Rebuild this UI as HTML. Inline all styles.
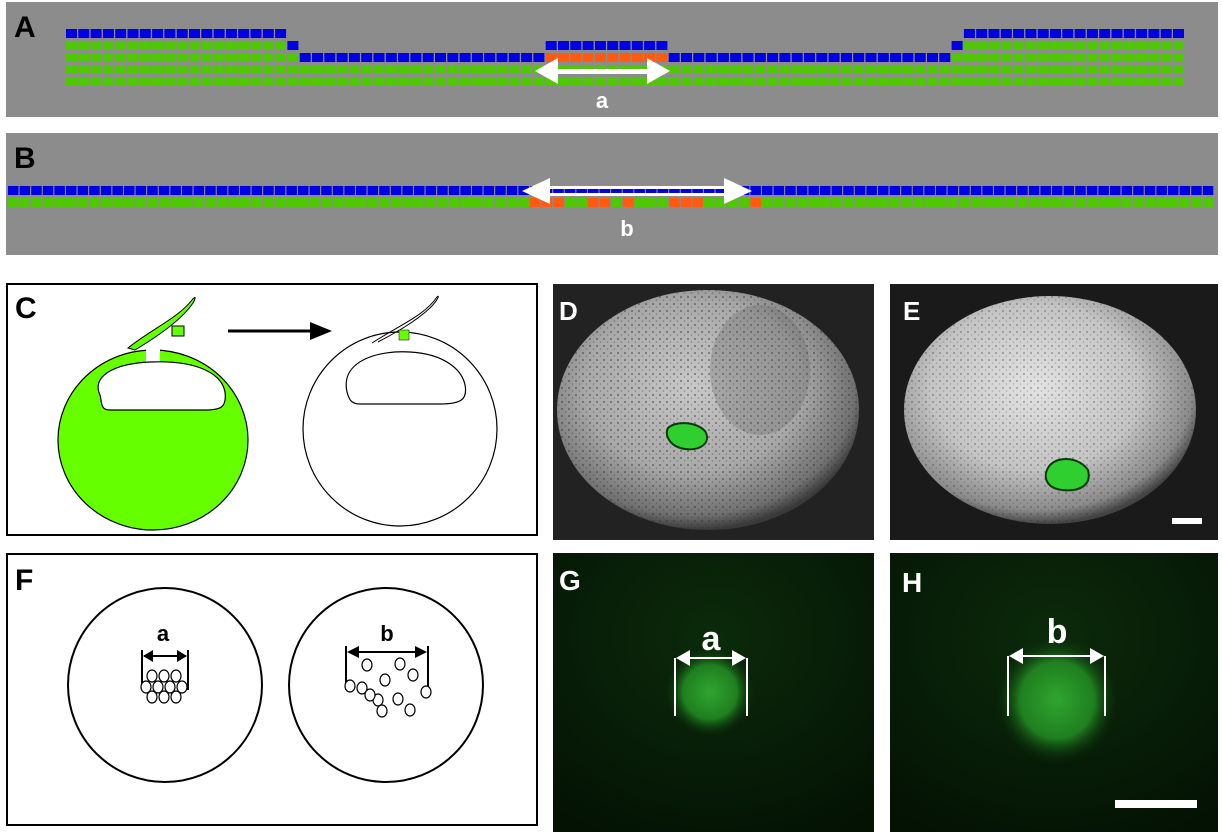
<!DOCTYPE html>
<html><head><meta charset="utf-8"><style>
body{margin:0;background:#fff;width:1222px;height:832px;overflow:hidden;font-family:"Liberation Sans",sans-serif}
svg{position:absolute;left:0;top:0}
</style></head><body>
<svg id="s" width="1222" height="832" xmlns="http://www.w3.org/2000/svg">
<defs>
<radialGradient id="sph" cx="0.45" cy="0.4" r="0.6">
<stop offset="0" stop-color="#c8c8c8"/><stop offset="0.6" stop-color="#a8a8a8"/><stop offset="0.9" stop-color="#707070"/><stop offset="1" stop-color="#3a3a3a"/></radialGradient>
<radialGradient id="sph2" cx="0.45" cy="0.4" r="0.6">
<stop offset="0" stop-color="#e2e2e2"/><stop offset="0.6" stop-color="#c4c4c4"/><stop offset="0.9" stop-color="#8a8a8a"/><stop offset="1" stop-color="#444"/></radialGradient>
<radialGradient id="gb" cx="0.5" cy="0.5" r="0.5">
<stop offset="0" stop-color="#2fa52f"/><stop offset="0.6" stop-color="#1f7f1f"/><stop offset="1" stop-color="#0a2a0a" stop-opacity="0"/></radialGradient>
<radialGradient id="gbg" cx="0.5" cy="0.3" r="0.8">
<stop offset="0" stop-color="#0b2a0b"/><stop offset="1" stop-color="#041204"/></radialGradient>
<pattern id="dots" width="7" height="7" patternUnits="userSpaceOnUse"><circle cx="2" cy="3" r="1.1" fill="#333" opacity="0.6"/><circle cx="5.5" cy="6" r="0.8" fill="#333" opacity="0.5"/></pattern>
<clipPath id="cd"><rect x="553" y="284" width="321" height="256"/></clipPath>
<clipPath id="ce"><rect x="890" y="284" width="328" height="256"/></clipPath>
</defs>
<rect x="6" y="2" width="1212" height="115" fill="#8c8c8c"/>
<rect x="6" y="133" width="1212" height="122" fill="#8c8c8c"/>
<g id="cells"></g>
<text x="14" y="37" font-size="30" font-weight="bold" fill="#000">A</text>
<text x="14" y="168" font-size="30" font-weight="bold" fill="#000">B</text>
<g fill="#fff"><rect x="555" y="69" width="95" height="5"/><polygon points="535,71 558,58 558,84"/><polygon points="670,71 647,58 647,84"/></g>
<text x="602" y="108" font-size="22" font-weight="bold" fill="#fff" text-anchor="middle">a</text>
<g fill="#fff"><rect x="540" y="186" width="195" height="3"/><rect x="540" y="193" width="195" height="3"/><polygon points="522,191 550,178 550,204"/><polygon points="752,191 724,178 724,204"/></g>
<text x="627" y="236" font-size="22" font-weight="bold" fill="#fff" text-anchor="middle">b</text>
<!-- C -->
<rect x="7" y="284" width="530" height="251" fill="#fff" stroke="#000" stroke-width="2"/>
<text x="15" y="318" font-size="30" font-weight="bold">C</text>
<ellipse cx="153" cy="440" rx="95" ry="90" fill="#66ff00" stroke="#000" stroke-width="1.2"/>
<rect x="146" y="343" width="14" height="20" fill="#fff"/>
<path d="M100,395 C92,378 110,364 150,362 C200,360 222,375 225,392 C227,408 220,410 205,410 L110,410 C100,410 102,402 100,395 Z" fill="#fff" stroke="#000" stroke-width="1.2"/>
<path d="M128,348 C150,330 178,318 192,300 C196,295 196,298 193,303 C183,318 160,335 135,350 Z" fill="#66ff00" stroke="#000"/>
<rect x="172" y="326" width="12" height="10" fill="#66ff00" stroke="#000"/>
<line x1="228" y1="331" x2="312" y2="331" stroke="#000" stroke-width="3"/><polygon points="332,331 310,322 310,340" fill="#000"/>
<circle cx="400" cy="429" r="97" fill="none" stroke="#000" stroke-width="1.2"/>
<path d="M347,392 C340,360 380,350 410,352 C445,354 462,370 465,385 C468,400 460,404 440,404 L360,404 C350,404 349,398 347,392 Z" fill="none" stroke="#000" stroke-width="1.2"/>
<path d="M372,343 C400,325 425,315 437,297 C440,294 438,300 430,308 C415,322 395,333 378,342" fill="none" stroke="#000"/>
<rect x="399" y="330" width="10" height="10" fill="#66ff00" stroke="#000" stroke-width="0.5"/>
<!-- F -->
<rect x="7" y="554" width="530" height="271" fill="#fff" stroke="#000" stroke-width="2"/>
<text x="15" y="590" font-size="30" font-weight="bold">F</text>
<circle cx="165" cy="685" r="97" fill="none" stroke="#000" stroke-width="2"/>
<circle cx="386" cy="685" r="97" fill="none" stroke="#000" stroke-width="2"/>
<text x="163" y="641" font-size="22" font-weight="bold" text-anchor="middle">a</text>
<text x="387" y="641" font-size="22" font-weight="bold" text-anchor="middle">b</text>
<g stroke="#000" stroke-width="2"><line x1="144" y1="656" x2="186" y2="656"/><line x1="142" y1="650" x2="142" y2="690"/><line x1="188" y1="650" x2="188" y2="690"/>
<line x1="350" y1="652" x2="422" y2="652"/><line x1="346" y1="646" x2="346" y2="690"/><line x1="428" y1="646" x2="428" y2="690"/></g>
<g fill="#000"><polygon points="143,656 153,650 153,662"/><polygon points="187,656 177,650 177,662"/><polygon points="347,652 359,646 359,658"/><polygon points="427,652 415,646 415,658"/></g>
<g fill="#fff" stroke="#000" stroke-width="1.2">
<ellipse cx="152" cy="676" rx="5" ry="6"/><ellipse cx="164" cy="676" rx="5" ry="6"/><ellipse cx="176" cy="676" rx="5" ry="6"/>
<ellipse cx="146" cy="687" rx="5" ry="6"/><ellipse cx="158" cy="687" rx="5" ry="6"/><ellipse cx="170" cy="687" rx="5" ry="6"/><ellipse cx="182" cy="687" rx="5" ry="6"/>
<ellipse cx="152" cy="697" rx="5" ry="6"/><ellipse cx="164" cy="697" rx="5" ry="6"/><ellipse cx="176" cy="697" rx="5" ry="6"/>
<ellipse cx="367" cy="665" rx="5" ry="6"/><ellipse cx="400" cy="664" rx="5" ry="6"/><ellipse cx="413" cy="675" rx="5" ry="6"/><ellipse cx="385" cy="680" rx="5" ry="6"/>
<ellipse cx="362" cy="688" rx="5" ry="6"/><ellipse cx="350" cy="686" rx="5" ry="6"/><ellipse cx="378" cy="700" rx="5" ry="6"/><ellipse cx="398" cy="699" rx="5" ry="6"/>
<ellipse cx="426" cy="692" rx="5" ry="6"/><ellipse cx="382" cy="711" rx="5" ry="6"/><ellipse cx="410" cy="710" rx="5" ry="6"/><ellipse cx="370" cy="695" rx="5" ry="6"/></g>
<!-- D -->
<rect x="553" y="284" width="321" height="256" fill="#222"/>
<g clip-path="url(#cd)">
<ellipse cx="708" cy="410" rx="151" ry="120" fill="url(#sph)"/>
<ellipse cx="708" cy="410" rx="151" ry="120" fill="url(#dots)" opacity="0.8"/>
<ellipse cx="760" cy="370" rx="50" ry="65" fill="#555" opacity="0.25"/>
</g>
<path d="M668,428 C675,421 695,421 705,431 C712,443 700,451 685,449 C670,447 664,435 668,428Z" fill="#2fcf2f" stroke="#0a3a0a" stroke-width="2"/>
<text x="559" y="320" font-size="26" font-weight="bold" fill="#fff">D</text>
<!-- E -->
<rect x="890" y="284" width="328" height="256" fill="#1a1a1a"/>
<g clip-path="url(#ce)">
<ellipse cx="1050" cy="410" rx="146" ry="114" fill="url(#sph2)"/>
<ellipse cx="1050" cy="410" rx="146" ry="114" fill="url(#dots)" opacity="0.55"/>
</g>
<path d="M1050,465 C1060,455 1080,458 1088,470 C1092,485 1080,492 1062,490 C1045,488 1042,475 1050,465Z" fill="#2fcf2f" stroke="#0a3a0a" stroke-width="2"/>
<rect x="1172" y="518" width="30" height="6" fill="#fff"/>
<text x="903" y="320" font-size="26" font-weight="bold" fill="#fff">E</text>
<!-- G -->
<rect x="553" y="553" width="321" height="279" fill="url(#gbg)"/>
<ellipse cx="710" cy="692" rx="45" ry="45" fill="url(#gb)"/>
<text x="559" y="590" font-size="28" font-weight="bold" fill="#fff">G</text>
<text x="711" y="650" font-size="34" font-weight="bold" fill="#fff" text-anchor="middle">a</text>
<g stroke="#fff" stroke-width="2"><line x1="675" y1="658" x2="675" y2="716"/><line x1="747" y1="658" x2="747" y2="716"/><line x1="680" y1="658" x2="742" y2="658"/></g>
<g fill="#fff"><polygon points="676,658 690,650 690,666"/><polygon points="746,658 732,650 732,666"/></g>
<!-- H -->
<rect x="890" y="553" width="328" height="279" fill="url(#gbg)"/>
<ellipse cx="1057" cy="700" rx="62" ry="64" fill="url(#gb)"/>
<text x="902" y="592" font-size="28" font-weight="bold" fill="#fff">H</text>
<text x="1057" y="643" font-size="34" font-weight="bold" fill="#fff" text-anchor="middle">b</text>
<g stroke="#fff" stroke-width="2"><line x1="1008" y1="656" x2="1008" y2="716"/><line x1="1105" y1="656" x2="1105" y2="716"/><line x1="1012" y1="656" x2="1100" y2="656"/></g>
<g fill="#fff"><polygon points="1009,656 1023,648 1023,664"/><polygon points="1104,656 1090,648 1090,664"/></g>
<rect x="1115" y="800" width="82" height="8" fill="#fff"/>
</svg>
<script>
(function(){
var g=document.getElementById('cells'),h='';
function c(x,y,col,w){h+='<rect x="'+x+'" y="'+y+'" width="'+(w||11)+'" height="9" fill="'+col+'"/>';}
var B='#0000e0',G='#4ec800',O='#ff5a10';
var ys=[29,41,53,65,77];
for(var x=66;x<1176;x+=12.3){
 var tp;
 if(x<276)tp=0;else if(x<288)tp=1;else if(x<537)tp=2;else if(x<668)tp=1;else if(x<948)tp=2;else if(x<960)tp=1;else tp=0;
 for(var r=tp;r<5;r++){var col=r==tp?B:G; if(x>=537&&x<668&&r==2)col=O; c(x,ys[r],col);}
}
for(var x=8;x<1212;x+=11.6){
 c(x,186,B,10.5);
 var col=G;
 if((x>=520&&x<557)||(x>=582&&x<606)||(x>=618&&x<630)||(x>=666&&x<704)||(x>=740&&x<753))col=O;
 c(x,198,col,10.5);
}
g.innerHTML=h;
})();
</script>
</body></html>
